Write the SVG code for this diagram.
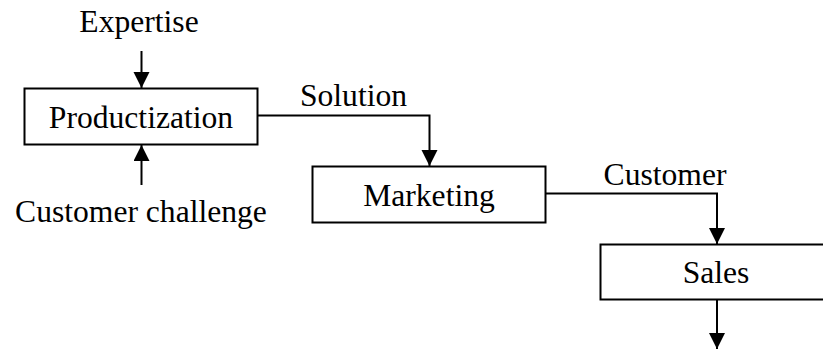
<svg xmlns="http://www.w3.org/2000/svg" width="823" height="349" viewBox="0 0 823 349">
<style>
.box{fill:#fff;stroke:#000;stroke-width:2}
.t{font-family:"Liberation Serif","Times New Roman",serif;font-size:31.6px;fill:#000;text-anchor:middle}
.c{fill:none;stroke:#000;stroke-width:2}
</style>
<defs>
<marker id="ah" markerUnits="userSpaceOnUse" markerWidth="16" markerHeight="17" refX="16" refY="8" orient="auto">
<path d="M0,0 L16,8 L0,16 Z" fill="#000"/>
</marker>
</defs>
<rect width="823" height="349" fill="#fff"/>
<g id="connectors">
<line class="c" x1="141.5" y1="51" x2="141.5" y2="88" marker-end="url(#ah)"/>
<line class="c" x1="141.5" y1="185" x2="141.5" y2="145" marker-end="url(#ah)"/>
<polyline class="c" points="258,115.5 429.5,115.5 429.5,166" marker-end="url(#ah)"/>
<text class="t" x="353.5" y="106">Solution</text>
<polyline class="c" points="546,193.5 717,193.5 717,244" marker-end="url(#ah)"/>
<text class="t" x="665" y="185">Customer</text>
<line class="c" x1="717" y1="300" x2="717" y2="349" marker-end="url(#ah)"/>
</g>
<g id="expertise"><text class="t" x="139" y="32">Expertise</text></g>
<g id="challenge"><text class="t" x="141" y="222">Customer challenge</text></g>
<g id="productization">
<rect class="box" x="24.5" y="88.5" width="233" height="56"/>
<text class="t" x="141" y="128">Productization</text>
</g>
<g id="marketing">
<rect class="box" x="312.5" y="166.5" width="233" height="56"/>
<text class="t" x="429" y="206">Marketing</text>
</g>
<g id="sales">
<rect class="box" x="600.5" y="244.5" width="233" height="55"/>
<text class="t" x="716" y="283">Sales</text>
</g>
</svg>
